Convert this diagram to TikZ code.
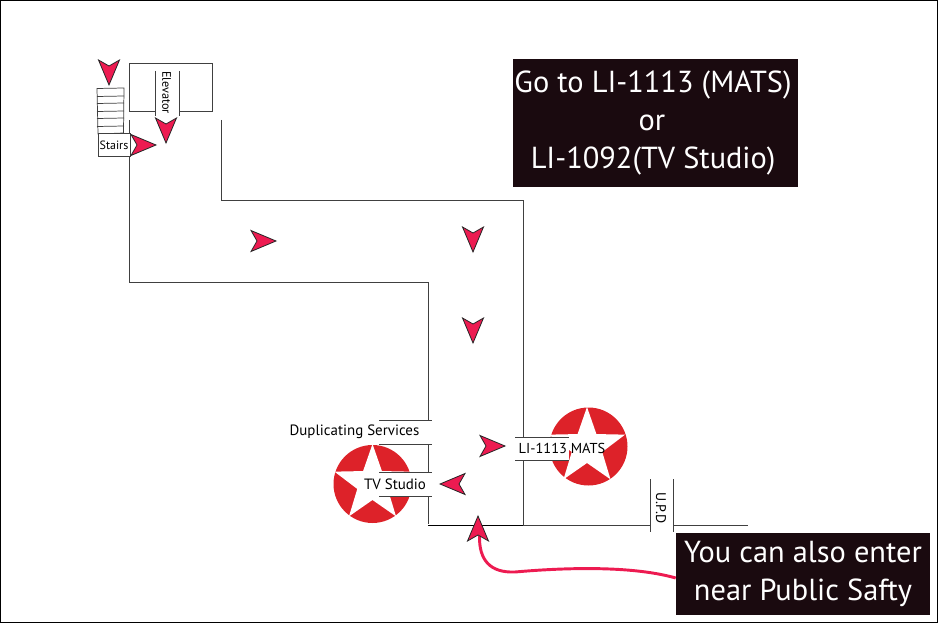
\documentclass[tikz,border=0pt]{standalone}
\usepackage{fontspec}
\setmainfont{PT Sans}
\usetikzlibrary{shapes.geometric}
\definecolor{mapred}{HTML}{DD2229}
\definecolor{arrowred}{HTML}{ED1B51}
\definecolor{wallgray}{HTML}{404040}
\definecolor{boxdark}{HTML}{1A0A0F}
\tikzset{
  wall/.style={draw=wallgray,line width=0.7pt},
  blackwall/.style={draw=black,line width=0.7pt},
  roomlabel/.style={inner sep=0pt,font=\fontsize{11.2}{12}\selectfont},
  notice/.style={fill=boxdark,text=white,inner sep=0pt,align=center,font=\fontsize{22.8}{28.5}\selectfont},
  noticeline/.style={text=white,inner sep=0pt,font=\fontsize{22.8}{24}\selectfont},
  redstar/.style={star,star points=5,star point ratio=2.5,fill=white,inner sep=0pt,minimum size=60pt},
  reddisc/.style={circle,fill=mapred,inner sep=0pt,minimum size=58.5pt},
  walkhead/.pic={
    \fill [arrowred,draw=black!85,line width=0.6pt] (0,0) -- (-25,-10.5) -- (-19,0) -- (-25,10.5) -- cycle;
  }
}
\begin{document}
\begin{tikzpicture}[x=0.75pt,y=-0.75pt]
    \useasboundingbox (0,0) rectangle (938,623);
    \draw [black,line width=0.7pt] (0.5,0.5) rectangle (937.5,622.5);

    %% stars
    \node [reddisc] (studiodisc) at (372.5,484) {};
    \node [redstar] (studiostar) at (372.5,484) {};
    \node [reddisc] (matsdisc) at (588.5,446.5) {};
    \node [redstar] (matsstar) at (587,447) {};

    %% walls
    \draw [wall] (129,120) -- (129,282) -- (428,282) -- (428,524);
    \draw [wall] (221,120) -- (221,200) -- (523,200) -- (523,525) -- (748,525);
    \draw [blackwall] (428,525) -- (523,525);
    \draw [wall] (129,63) rectangle (212,111);

    %% stairs
    \draw [wallgray,fill=white,line width=0.55pt] (97,88.5) -- (124,88) -- (123.5,133) -- (98,134) -- cycle;
    \foreach \y in {96,103,111,118,126}
      \draw [wallgray,line width=0.55pt] (97,\y+0.5) -- (124,\y);
    \node [roomlabel,fill=white,draw=wallgray,line width=0.55pt,minimum width=24pt,minimum height=17pt,font=\fontsize{9}{10}\selectfont] (stairs) at (114,145) {Stairs};

    %% elevator
    \fill [white] (155,100) rectangle (179,116);
    \draw [wall] (155,71) -- (155,116);
    \draw [wall] (179,71) -- (179,116);
    \node [roomlabel,rotate=-90,font=\fontsize{9.2}{10}\selectfont] (elevator) at (166.5,92.5) {Elevator};

    %% rooms
    \fill [white] (379,420.5) rectangle (432,444);
    \fill [white] (379,472.5) rectangle (432,496);
    \fill [white] (515,437) rectangle (569,460);
    \foreach \y in {420.5,444,472.5,496}
      \draw [wall] (379,\y) -- (432,\y);
    \foreach \y in {437,460}
      \draw [wall] (515,\y) -- (569,\y);
    \node [roomlabel] (duplicating) at (354.5,431.5) {Duplicating Services};
    \node [roomlabel] (tvstudio) at (395,484) {TV Studio};
    \node [roomlabel,font=\fontsize{10.8}{12}\selectfont] (mats) at (562,448) {LI-1113 MATS};

    %% police
    \fill [white] (650,515) rectangle (673,535);
    \draw [wall] (650,479) -- (650,532);
    \draw [wall] (673,479) -- (673,532);
    \node [roomlabel,rotate=-90,font=\fontsize{10.5}{12}\selectfont] (upd) at (661,508) {U.P.D};

    %% notices
    \node [notice,minimum width=214pt,minimum height=96pt] (goto) at (655.5,123) {};
    \node [noticeline] (gotoa) at (653,85) {Go to LI-1113 (MATS)};
    \node [noticeline] (gotob) at (652,123) {or};
    \node [noticeline] (gotoc) at (653,161) {LI-1092(TV Studio)};
    \node [notice,minimum width=190.5pt,minimum height=61.5pt] (enter) at (803,574) {You can also enter\\near Public Safty};

    %% route
    \pic at (109,85) [rotate=-90] {walkhead};
    \pic at (166,143) [rotate=-90] {walkhead};
    \pic at (156,145) {walkhead};
    \pic at (276,241) {walkhead};
    \pic at (473,252) [rotate=-90] {walkhead};
    \pic at (473,343) [rotate=-90] {walkhead};
    \pic at (505,446) {walkhead};
    \pic at (440,484) [rotate=180] {walkhead};
    \coordinate (entrance) at (479.5,536);
    \draw [arrowred,line width=2.2pt] (enter.west |- 0,578) .. controls (630,565) and (560,568) .. (515,572) .. controls (490,573) and (479,560) .. (entrance);
    \pic at (478,516) [rotate=90] {walkhead};
\end{tikzpicture}
\end{document}
